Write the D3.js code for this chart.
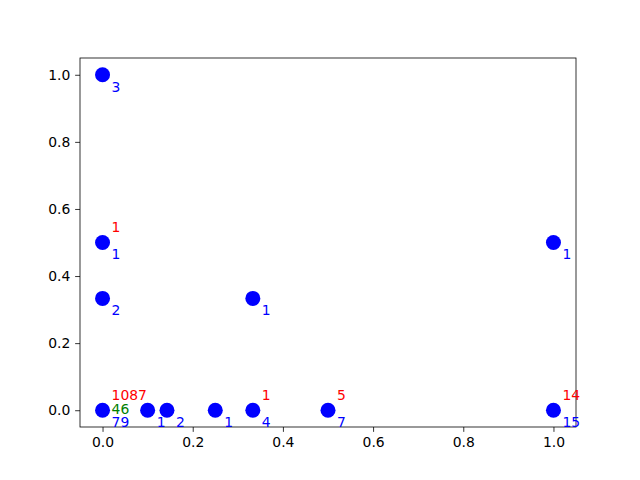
<!DOCTYPE html>
<html>
<head>
<meta charset="utf-8">
<script src="https://cdn.jsdelivr.net/npm/d3@7"></script>
<style>
  body { margin: 0; background: #fff; }
  svg text { font-family: "DejaVu Sans", sans-serif; }
</style>
</head>
<body>
<div id="chart"></div>
<script>
// point positions
var xs = [0, 0, 0, 0.3333, 1, 0, 0.1, 0.1429, 0.25, 0.3333, 0.5, 1];
var ys = [1, 0.5, 0.3333, 0.3333, 0.5, 0, 0, 0, 0, 0, 0, 0];
// labels per point (null = none)
var blueLabels = ['3', '1', '2', '1', '1', '79', '1', '2', '1', '4', '7', '15'];
var redLabels = [null, '1', null, null, null, '1087', null, null, null, '1', '5', '14'];
var greenLabels = [null, null, null, null, null, '46', null, null, null, null, null, null];
var tickVals = [0, 0.2, 0.4, 0.6, 0.8, 1.0];

var W = 640, H = 480;
var margin = {left: 80, right: 64, top: 58, bottom: 53};

var svg = d3.select("#chart").append("svg").attr("width", W).attr("height", H);

var x = d3.scaleLinear().domain([-0.05, 1.05]).range([margin.left, W - margin.right]);
var y = d3.scaleLinear().domain([-0.05, 1.05]).range([H - margin.bottom, margin.top]);

// axes
var xAxis = svg.append("g")
  .attr("transform", "translate(0," + (H - margin.bottom) + ")")
  .call(d3.axisBottom(x).tickValues(tickVals).tickFormat(d3.format(".1f")).tickSizeInner(4.86).tickSizeOuter(0).tickPadding(4.86));
var yAxis = svg.append("g")
  .attr("transform", "translate(" + margin.left + ",0)")
  .call(d3.axisLeft(y).tickValues(tickVals).tickFormat(d3.format(".1f")).tickSizeInner(4.86).tickSizeOuter(0).tickPadding(4.86));

[xAxis, yAxis].forEach(function(a){
  a.select(".domain").remove();
  a.selectAll("line").attr("stroke", "#000").attr("stroke-width", 0.8);
  a.selectAll("text").attr("font-size", "13.9px").attr("fill", "#000").attr("font-family", "DejaVu Sans");
});

// frame
svg.append("rect")
  .attr("x", margin.left).attr("y", margin.top)
  .attr("width", W - margin.left - margin.right)
  .attr("height", H - margin.top - margin.bottom)
  .attr("fill", "none").attr("stroke", "#000").attr("stroke-width", 0.8);

// points
svg.selectAll("circle.pt")
  .data(xs).enter().append("circle")
  .attr("class", "pt")
  .attr("cx", function(d){ return x(d); })
  .attr("cy", function(d, i){ return y(ys[i]); })
  .attr("r", 7.5)
  .attr("fill", "#0000ff");

// labels, offset in data units from their point
function drawLabels(labels, color, dy){
  labels.forEach(function(d, i){
    if (d === null) return;
    svg.append("text")
      .attr("x", x(xs[i] + 0.02))
      .attr("y", y(ys[i] + dy))
      .attr("font-size", "13.9px")
      .attr("fill", color)
      .text(d);
  });
}

drawLabels(blueLabels, "#0000ff", -0.05);
drawLabels(redLabels, "#ff0000", 0.03);
drawLabels(greenLabels, "#008000", -0.01);
</script>
</body>
</html>
